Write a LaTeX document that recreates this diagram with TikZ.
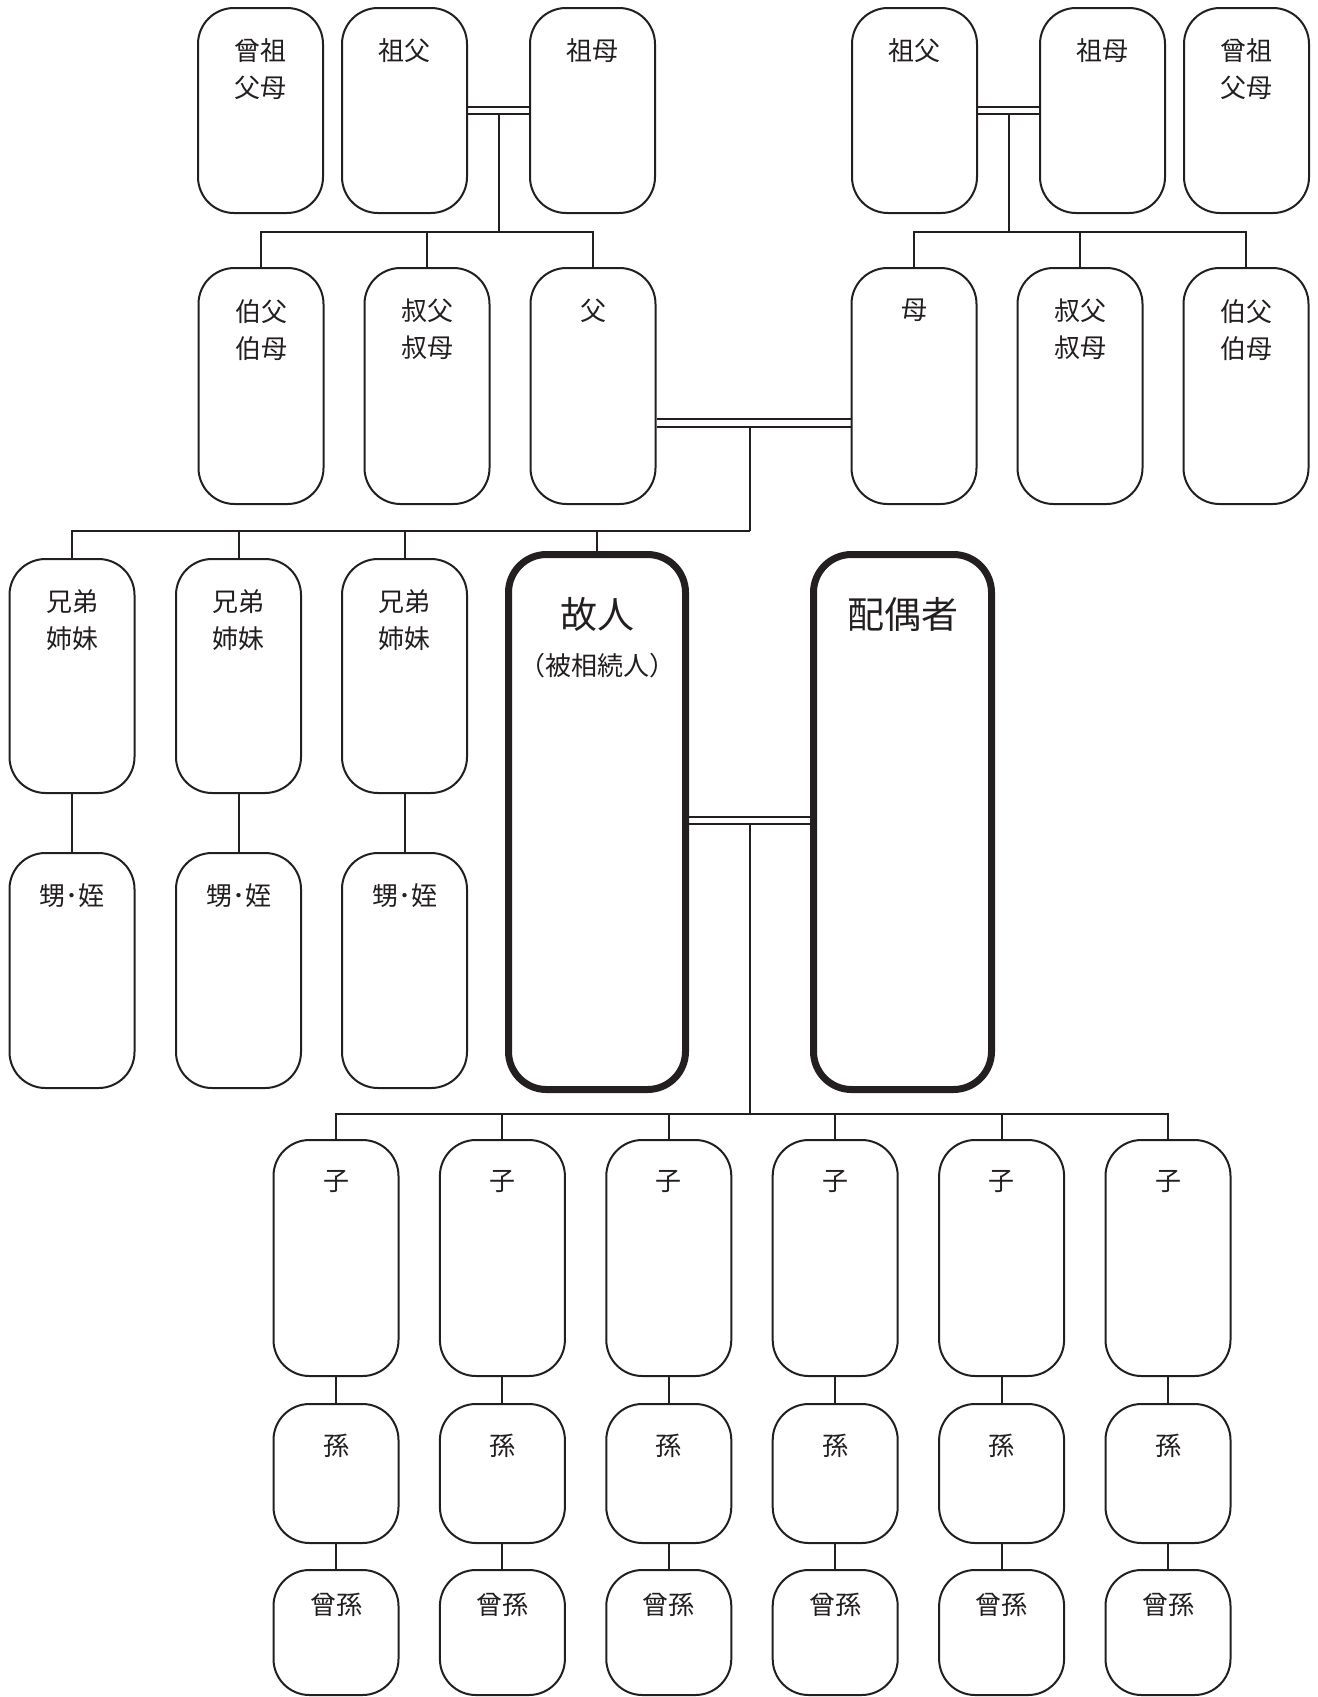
\documentclass[tikz,border=0pt]{standalone}
\usepackage{fontspec}
\newfontfamily\jpfont{Noto Sans CJK JP}
\usetikzlibrary{calc}
\definecolor{ink}{HTML}{231F20}
\newcommand\kinnode[5]{%
  \node[kbox, minimum height=#3] (#1) at (#2) {};
  \node[ktext] (#1t) at ([yshift=-#5]#1.north) {#4};}
\begin{document}
\begin{tikzpicture}[x=1pt,y=-1pt,
  kbox/.style={draw=ink, line width=2pt, rounded corners=36pt, minimum width=125pt, inner sep=0pt},
  kmain/.style={draw=ink, line width=7pt, rounded corners=38pt, inner sep=0pt},
  ktext/.style={anchor=north, inner sep=0pt, align=center, text=ink, font=\jpfont\fontsize{26}{37}\selectfont},
  kbig/.style={anchor=north, inner sep=0pt, align=center, text=ink, font=\jpfont\fontsize{26}{47}\selectfont},
  link/.style={draw=ink, line width=2pt},
]
\useasboundingbox (0,0) rectangle (1317,1697);

% grandparents row
\kinnode{a1}{260.5,110.5}{205pt}{曾祖\\父母}{31.5pt}
\kinnode{a2}{404.5,110.5}{205pt}{祖父}{31.5pt}
\kinnode{a3}{592.5,110.5}{205pt}{祖母}{31.5pt}
\kinnode{a4}{914.5,110.5}{205pt}{祖父}{31.5pt}
\kinnode{a5}{1102.5,110.5}{205pt}{祖母}{31.5pt}
\kinnode{a6}{1246.5,110.5}{205pt}{曾祖\\父母}{31.5pt}

% parents row
\kinnode{b1}{261,386}{236pt}{伯父\\伯母}{32pt}
\kinnode{b2}{427,386}{236pt}{叔父\\叔母}{32pt}
\kinnode{b3}{593,386}{236pt}{父}{32pt}
\kinnode{b4}{914,386}{236pt}{母}{32pt}
\kinnode{b5}{1080,386}{236pt}{叔父\\叔母}{32pt}
\kinnode{b6}{1246,386}{236pt}{伯父\\伯母}{32pt}

% siblings and nephews
\foreach \i/\x in {1/72,2/238.5,3/404.5}{
  \kinnode{s\i}{\x,676}{234pt}{兄弟\\姉妹}{31.5pt}
  \kinnode{n\i}{\x,970.5}{235pt}{甥･姪}{31pt}
  \draw[link] (s\i.south) -- (n\i.north);
}

% deceased and spouse
\node[kmain, minimum width=177pt, minimum height=535pt] (dec) at (597,822) {};
\node[kbig] (dect) at (597,597) {{\fontsize{37}{47}\selectfont 故人}\\（被相続人）};
\node[kmain, minimum width=178pt, minimum height=535pt] (sp) at (902.5,822) {};
\node[kbig] (spt) at (902.5,597) {\fontsize{37}{47}\selectfont 配偶者};

% descendants
\foreach \i in {0,...,5}{
  \pgfmathsetmacro\cx{336+166.4*\i}
  \kinnode{c\i}{\cx,1258}{236pt}{子}{31pt}
  \kinnode{g\i}{\cx,1473.5}{139pt}{孫}{31pt}
  \kinnode{h\i}{\cx,1632.5}{125pt}{曾孫}{24pt}
  \draw[link] (c\i.south) -- (g\i.north);
  \draw[link] (g\i.south) -- (h\i.north);
}

% junction points
\coordinate (cL) at (498.5,113.5);
\coordinate (jL) at (498.5,232);
\coordinate (cR) at (1008.5,113.5);
\coordinate (jR) at (1008.5,232);
\coordinate (cP) at (750,427);
\coordinate (jP) at (750,531);
\coordinate (cC) at (749.5,824);
\coordinate (jC) at (749.5,1114);

% left grandparents
\draw[link] ([yshift=3.5pt]a2.east) -- ([yshift=3.5pt]a3.west);
\draw[link] ([yshift=-3pt]a2.east) -- ([yshift=-3pt]a3.west);
\draw[link] (cL) -- (jL);
\draw[link] (b1.north) |- (jL) -| (b3.north);
\draw[link] (b2.north) -- (b2.north |- jL);

% right grandparents
\draw[link] ([yshift=3.5pt]a4.east) -- ([yshift=3.5pt]a5.west);
\draw[link] ([yshift=-3pt]a4.east) -- ([yshift=-3pt]a5.west);
\draw[link] (cR) -- (jR);
\draw[link] (b4.north) |- (jR) -| (b6.north);
\draw[link] (b5.north) -- (b5.north |- jR);

% parents
\draw[link] ([yshift=-33pt]b3.east) -- ([yshift=-33pt]b4.west);
\draw[link] ([yshift=-41pt]b3.east) -- ([yshift=-41pt]b4.west);
\draw[link] (cP) -- (jP);
\draw[link] (s1.north) |- (jP);
\draw[link] (s2.north) -- (s2.north |- jP);
\draw[link] (s3.north) -- (s3.north |- jP);
\draw[link] (dec.north) -- (dec.north |- jP);

% deceased and spouse
\draw[link] ([yshift=5pt]dec.east) -- ([yshift=5pt]sp.west);
\draw[link] ([yshift=-2pt]dec.east) -- ([yshift=-2pt]sp.west);
\draw[link] (cC) -- (jC);
\draw[link] (c0.north) |- (jC) -| (c5.north);
\foreach \i in {1,...,4}{
  \draw[link] (c\i.north) -- (c\i.north |- jC);
}
\end{tikzpicture}
\end{document}
